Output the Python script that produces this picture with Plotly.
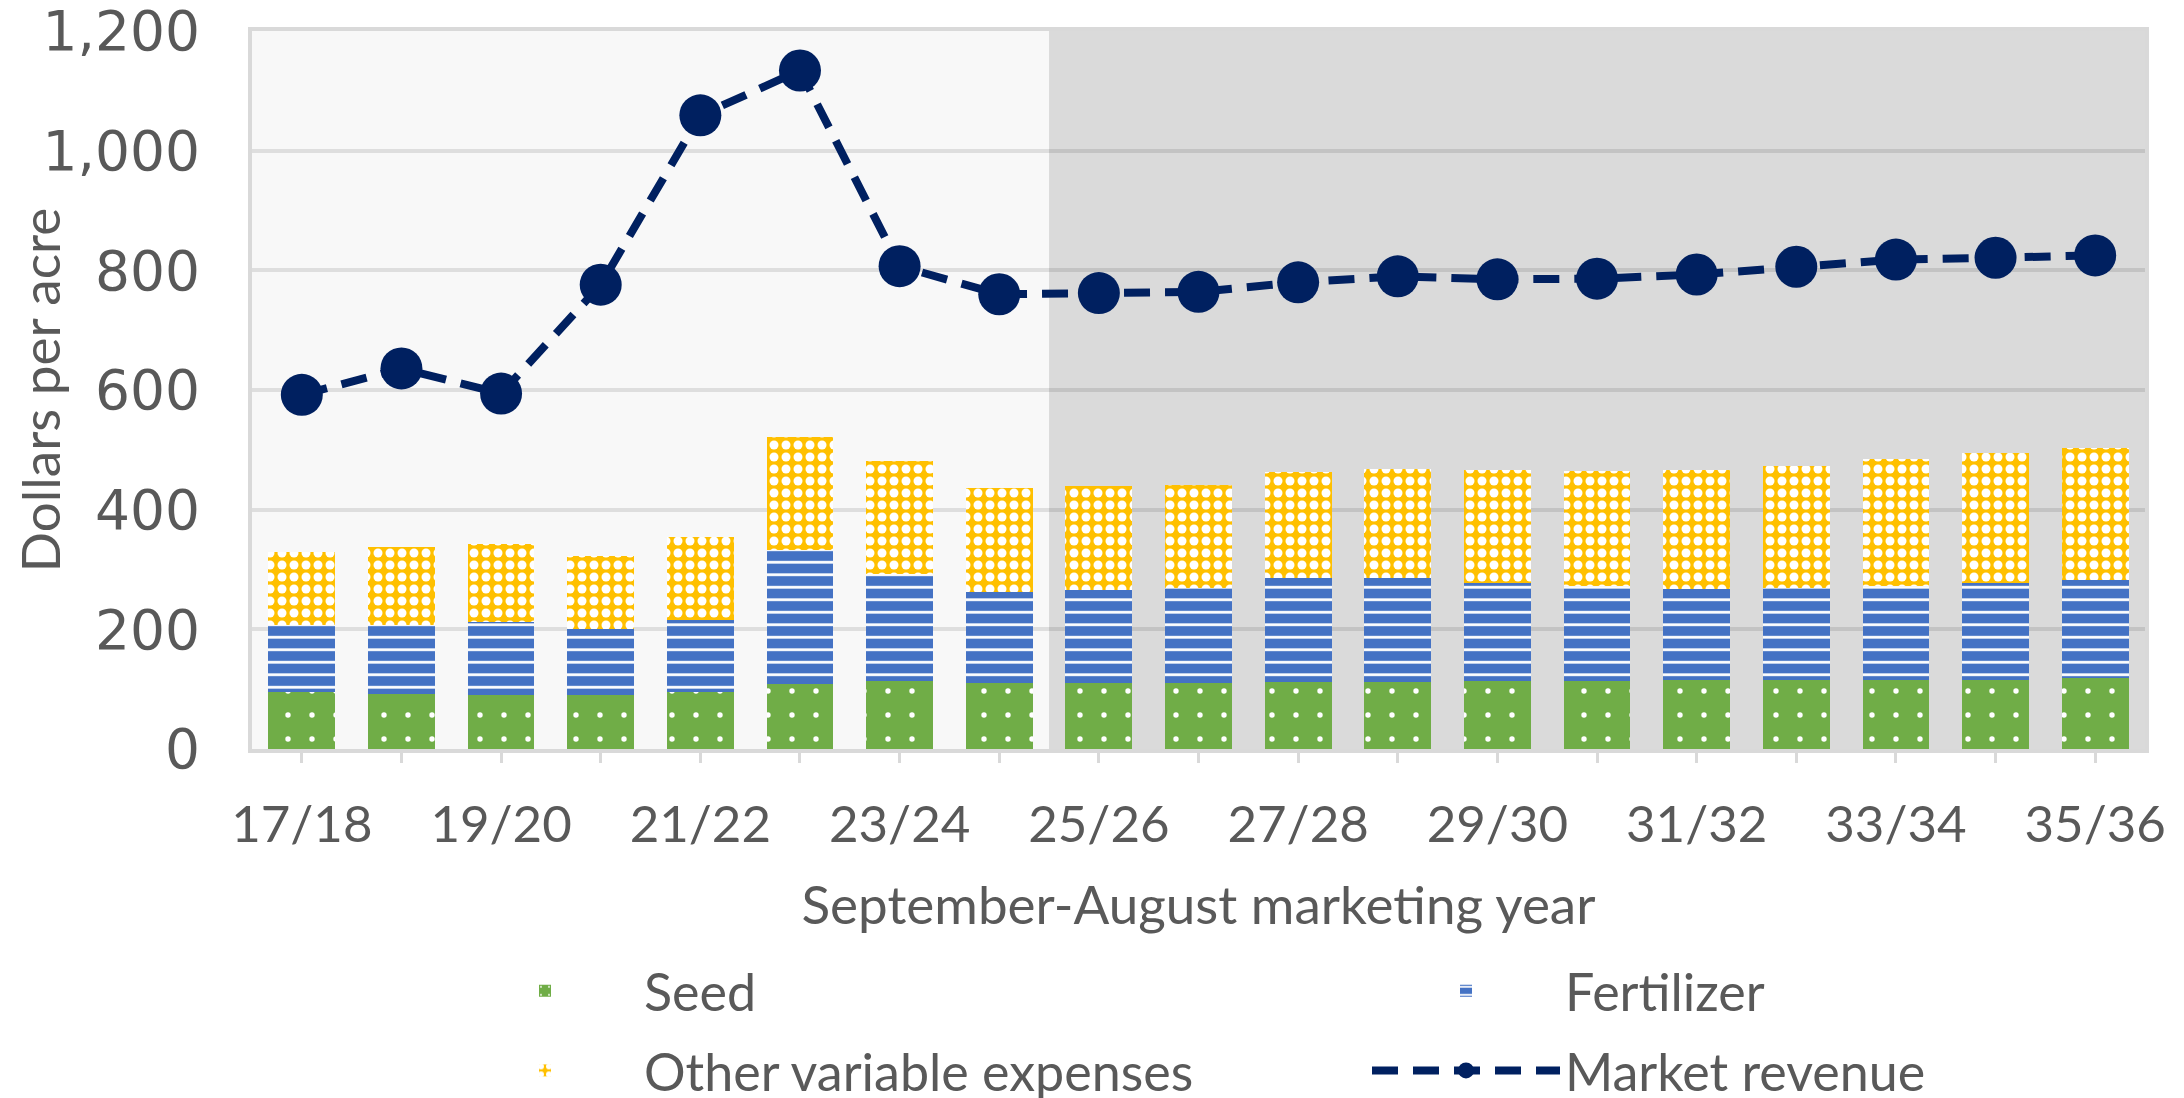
import plotly.graph_objects as go

# ---- data ----
years = ["17/18", "18/19", "19/20", "20/21", "21/22", "22/23", "23/24", "24/25",
         "25/26", "26/27", "27/28", "28/29", "29/30", "30/31", "31/32", "32/33",
         "33/34", "34/35", "35/36"]
seed = [95, 92, 90, 90, 96, 108, 113, 110, 110, 111, 112, 112, 113, 114, 115, 116, 116, 116, 119]
fertilizer = [112, 115, 122, 111, 119, 225, 179, 152, 156, 158, 173, 173, 165, 158, 153, 153, 157, 162, 163]
other = [122, 130, 131, 121, 140, 188, 190, 174, 174, 173, 178, 183, 188, 193, 199, 204, 211, 216, 221]
revenue = [592, 636, 594, 776, 1059, 1134, 807, 760, 762, 764, 780, 790, 785, 786, 793, 806, 818, 821, 825]
projection_start = "25/26"
y_ticks = [0, 200, 400, 600, 800, 1000, 1200]
y_ticklabels = ["0", "200", "400", "600", "800", "1,000", "1,200"]

x_pos = list(range(len(years)))
ticktext = [y if i % 2 == 0 else "" for i, y in enumerate(years)]

FONT = "Lato"
TXT = "#595959"
GRID = "#D9D9D9"

fig = go.Figure()
fig.add_trace(go.Bar(
    x=x_pos, y=seed, name="Seed", legend="legend", legendgroup="g1",
    marker=dict(color="#70AD47", line=dict(width=0),
                pattern=dict(shape=".", fgcolor="white", bgcolor="#70AD47",
                             size=24, solidity=0.04, fillmode="replace")),
))
fig.add_trace(go.Bar(
    x=x_pos, y=fertilizer, name="Fertilizer", legend="legend2", legendgroup="g2",
    marker=dict(color="#4472C4", line=dict(width=0),
                pattern=dict(shape="-", fgcolor="white", bgcolor="#4472C4",
                             size=12.5, solidity=0.22, fillmode="replace")),
))
fig.add_trace(go.Bar(
    x=x_pos, y=other, name="Other variable expenses", legend="legend", legendgroup="g3",
    marker=dict(color="#FFC000", line=dict(width=0),
                pattern=dict(shape=".", fgcolor="white", bgcolor="#FFC000",
                             size=12, solidity=0.44, fillmode="replace")),
))
fig.add_trace(go.Scatter(
    x=x_pos, y=revenue, name="Market revenue", legend="legend2", legendgroup="g4",
    mode="lines+markers",
    line=dict(color="#002060", width=8, dash="26px,15px"),
    marker=dict(color="#002060", size=42),
))

# historical period: light background; projection period keeps the darker plot background
fig.add_shape(type="rect", xref="x", yref="y domain",
              x0=-0.5, x1=years.index(projection_start) - 0.5,
              y0=0, y1=1, fillcolor="#F8F8F8",
              line=dict(width=0), layer="below")

# page body has an 8px default margin; compensate so the plot lands where the reference has it
OFF = 8
W, H = 2184 - OFF, 1098 - OFF
plot_l, plot_r, plot_t, plot_b = 252, 2145, 31, 749   # absolute page pixels
plot_w, plot_h = plot_r - plot_l, plot_b - plot_t

legend_common = dict(
    xanchor="left", y=-(950.5 - plot_b) / plot_h, yanchor="top",
    orientation="v", itemwidth=188, tracegroupgap=9, traceorder="grouped",
    font=dict(family=FONT, size=52, color=TXT), bgcolor="rgba(0,0,0,0)",
)

fig.update_layout(
    template="none",
    width=W, height=H,
    margin=dict(l=plot_l - OFF, r=W - (plot_r - OFF), t=plot_t - OFF, b=H - (plot_b - OFF),
                autoexpand=False),
    paper_bgcolor="white", plot_bgcolor="#DADADA",
    barmode="stack", bargap=0.33,
    font=dict(family=FONT, color=TXT, size=49),
    showlegend=True,
    xaxis=dict(
        range=[-0.5, len(years) - 0.5], tickmode="array", tickvals=x_pos, ticktext=ticktext,
        ticks="outside", ticklen=10, tickwidth=3, tickcolor=GRID,
        showline=True, linecolor=GRID, linewidth=4, mirror=True,
        showgrid=False, zeroline=False, automargin=False,
        tickfont=dict(family=FONT, size=51, color=TXT), ticklabelstandoff=18,
        ticklabeloverflow="allow",
        title=dict(text="September-August marketing year",
                   font=dict(family=FONT, size=53, color=TXT), standoff=36),
    ),
    yaxis=dict(
        range=[0, 1200], tickmode="array", tickvals=y_ticks, ticktext=y_ticklabels, ticks="",
        showgrid=True, gridcolor="rgba(0,0,0,0.1)", gridwidth=4,
        showline=True, linecolor=GRID, linewidth=4, mirror=True,
        zeroline=False, automargin=False,
        tickfont=dict(family="DejaVu Sans", size=55, color=TXT), ticklabelstandoff=37,
        ticklabeloverflow="allow",
        title=dict(text="Dollars per acre", font=dict(family=FONT, size=53, color=TXT), standoff=13),
    ),
    legend=dict(x=(446 - plot_l) / plot_w, **legend_common),
    legend2=dict(x=(1367 - plot_l) / plot_w, **legend_common),
)

fig.write_html("out.html")
